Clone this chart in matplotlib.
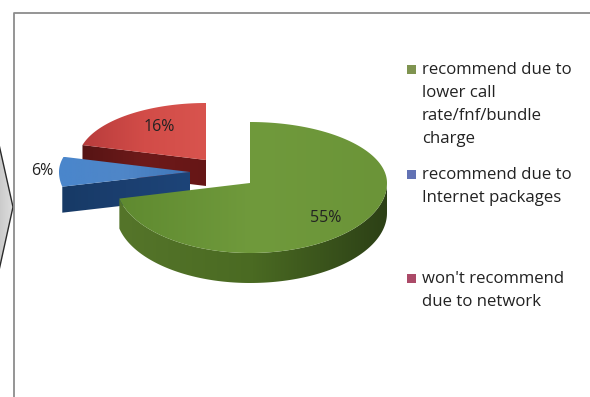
import numpy as np
import matplotlib.pyplot as plt
from matplotlib.colors import LinearSegmentedColormap
from matplotlib.patches import Polygon, Rectangle

plt.rcParams['font.family'] = ['Open Sans', 'DejaVu Sans']

# === Data ===
legend_labels = [
    "recommend due to\nlower call\nrate/fnf/bundle\ncharge",
    "recommend due to\nInternet packages",
    "won't recommend\ndue to network",
]
shares = [55, 6, 16]

# === Layout (pixels) ===
W, H = 590, 397
DEPTH = [30, 26, 26]
APEX = [(250, 183), (190, 172), (206, 160)]
RX_RIGHT = [137, 131, 128]
RX_LEFT = [134, 131, 128]
RY_BACK = [61, 58, 57]
RY_FRONT = [70, 66, 66]
TOP_RAMP = [
    ['#5f8a30', '#709a3c', '#6b9438'],
    ['#4a86cc', '#4f86c8', '#3f76b8'],
    ['#b83c3c', '#d24c48', '#d8544e'],
]
WALL_RAMP = [
    ['#55752a', '#4a6a22', '#2c4016'],
    ['#173a66', '#1b3f70', '#1d4478'],
    ['#561414', '#6e1a1a', '#661616'],
]
LABEL_POS = [(326, 218), (42, 171), (159, 127)]
LEGEND_Y = [70, 175, 279]
LEGEND_COLORS = ['#7f9450', '#6272b4', '#ab4a68']


def rim(i, deg):
    # outer edge of slice i at the given angles, back half flatter than front
    a = np.radians(deg)
    c, s = np.cos(a), np.sin(a)
    x = APEX[i][0] + np.where(c >= 0, RX_RIGHT[i], RX_LEFT[i]) * c
    y = APEX[i][1] - np.where(s >= 0, RY_BACK[i], RY_FRONT[i]) * s
    return np.column_stack([x, y])


def shaded(ax, pts, colors, z):
    # polygon filled with a left-to-right colour ramp
    cmap = LinearSegmentedColormap.from_list('ramp', colors)
    patch = Polygon(pts, closed=True, fc='none', ec='none', zorder=z)
    ax.add_patch(patch)
    x0, x1 = pts[:, 0].min(), pts[:, 0].max()
    y0, y1 = pts[:, 1].min(), pts[:, 1].max()
    im = ax.imshow(np.linspace(0, 1, 256)[None, :], cmap=cmap, aspect='auto',
                   extent=(x0, x1, y1, y0), zorder=z)
    im.set_clip_path(patch)


fig = plt.figure(figsize=(W / 100, H / 100), dpi=100)
ax = fig.add_axes([0, 0, 1, 1])

# chevron shape poking in from the left
chevron = np.array([[-2, 140], [13, 207], [-2, 275]], dtype=float)
shaded(ax, chevron, ['#c8c8c8', '#dedede'], 1)
ax.plot(chevron[:, 0], chevron[:, 1], color='#2a2a2a', lw=1.0, zorder=2)

# chart frame
ax.plot([14, 14, W], [H, 13, 13], color='#8c8c8c', lw=1.3, zorder=2)
ax.add_patch(Rectangle((15, 14), W - 15, H - 14, fc='white', ec='none', zorder=0.5))

# slices run clockwise from twelve o'clock
sweeps = 360 * np.array(shares) / sum(shares)
starts = 90 - np.concatenate([[0], np.cumsum(sweeps)[:-1]])
ends = starts - sweeps

# red first, green last so nearer slices overlap
for i in [2, 1, 0]:
    deg = np.linspace(starts[i], ends[i], 200)
    edge = rim(i, deg)
    apex = np.array([APEX[i]], dtype=float)
    z = 3 + (2 - i)
    drop = np.array([0, DEPTH[i]])

    if i == 0:
        # outer wall along the front of the big slice
        front = np.sin(np.radians(deg)) <= 0
        arc = edge[front]
        wall = np.vstack([arc, (arc + drop)[::-1]])
    else:
        # cut face below the lower radius of the slice
        cut = np.vstack([edge[:1], apex])
        wall = np.vstack([cut, (cut + drop)[::-1]])
    shaded(ax, wall, WALL_RAMP[i], z)
    shaded(ax, np.vstack([apex, edge]), TOP_RAMP[i], z + 0.2)

    ax.text(*LABEL_POS[i], f"{shares[i]}%", fontsize=11.5, color='#222222',
            ha='center', va='center', zorder=8)

# legend
for y, label, color in zip(LEGEND_Y, legend_labels, LEGEND_COLORS):
    ax.add_patch(Rectangle((407, y - 5), 9, 9, fc=color, ec='none', zorder=3))
    ax.text(422, y - 8, label, fontsize=12.1, color='#222222', ha='left', va='top',
            linespacing=1.58, zorder=3)

ax.set_xlim(0, W)
ax.set_ylim(H, 0)
ax.axis('off')
fig.savefig("out.png", dpi=100, facecolor='white')
